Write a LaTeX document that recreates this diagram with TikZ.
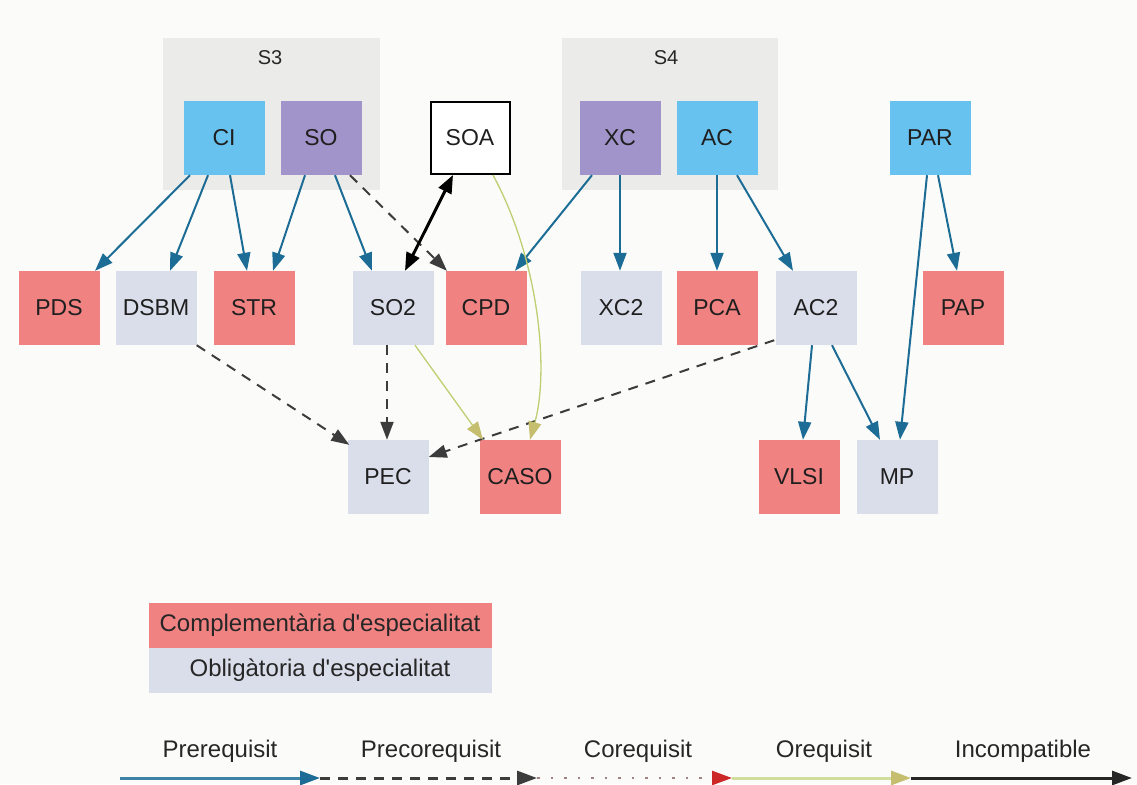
\documentclass[tikz,border=0pt]{standalone}
\usepackage{fontspec}
\setmainfont{Liberation Sans}
\usetikzlibrary{arrows.meta}

\definecolor{pagebg}{RGB}{251,252,250}
\definecolor{clusterbg}{RGB}{235,236,233}
\definecolor{nblue}{RGB}{104,194,240}
\definecolor{npurple}{RGB}{160,148,202}
\definecolor{nred}{RGB}{240,130,130}
\definecolor{ngrey}{RGB}{218,222,234}
\definecolor{eblue}{RGB}{28,108,150}
\definecolor{edash}{RGB}{60,60,60}
\definecolor{ekhaki}{RGB}{190,206,112}
\definecolor{ekhakitip}{RGB}{196,190,110}
\definecolor{ered}{RGB}{205,40,40}
\definecolor{edot}{RGB}{160,130,130}

\tikzset{
  tip/.style={-{Triangle[length=18pt,width=13pt]}},
  box/.style={rectangle, minimum width=81pt, minimum height=74pt, inner sep=0pt,
    font=\fontsize{23}{27}\selectfont, text=black!88},
  core/.style={box, fill=nblue},
  sys/.style={box, fill=npurple},
  compl/.style={box, fill=nred},
  oblig/.style={box, fill=ngrey},
  plainbox/.style={box, fill=white, draw=black, line width=2pt, minimum width=79pt, minimum height=72pt},
  cluster/.style={fill=clusterbg, draw=none},
  clusterlabel/.style={font=\fontsize{20}{24}\selectfont, text=black!85},
  legendtext/.style={font=\fontsize{24}{28}\selectfont, text=black!85},
  prereq/.style={draw=eblue, line width=2pt, tip},
  precoreq/.style={draw=edash, line width=2pt, dash pattern=on 10pt off 8pt, tip},
  oreq/.style={draw=ekhaki, line width=1.3pt,
    -{Triangle[length=18pt,width=13pt,fill=ekhakitip,color=ekhakitip]}},
  incompat/.style={draw=black, line width=3pt,
    {Triangle[length=18pt,width=14pt]}-{Triangle[length=18pt,width=14pt]}},
  % legend strokes
  lgtip/.style={-{Triangle[length=20pt,width=14pt,#1]}},
  lgprereq/.style={draw=eblue!85!white, line width=3pt, lgtip={fill=eblue,color=eblue}},
  lgprecoreq/.style={draw=edash, line width=3pt, dash pattern=on 10pt off 8pt, lgtip={}},
  lgcoreq/.style={draw=edot, line width=2.5pt, dash pattern=on 2.5pt off 11pt,
    lgtip={fill=ered,color=ered}},
  lgoreq/.style={draw=ekhaki!70!white, line width=3pt, lgtip={fill=ekhakitip,color=ekhakitip}},
  lgincompat/.style={draw=black!85, line width=3pt, lgtip={}},
}

\begin{document}
\begin{tikzpicture}[x=1pt,y=-1pt]
  % canvas
  \fill[pagebg] (0,0) rectangle (1137,784);
  \useasboundingbox (0,0) rectangle (1137,784);

  % semester groups
  \fill[cluster] (163,38) rectangle (380,190);
  \fill[cluster] (562,38) rectangle (778,190);
  \node[clusterlabel] (s3) at (270,58) {S3};
  \node[clusterlabel] (s4) at (666,58) {S4};

  % first row
  \node[core]     (CI)  at (224,138) {CI};
  \node[sys]      (SO)  at (321,138) {SO};
  \node[plainbox] (SOA) at (470,138) {SOA};
  \node[sys]      (XC)  at (620,138) {XC};
  \node[core]     (AC)  at (717,138) {AC};
  \node[core]     (PAR) at (930,138) {PAR};

  % second row
  \node[compl] (PDS)  at (59,308)  {PDS};
  \node[oblig] (DSBM) at (156,308) {DSBM};
  \node[compl] (STR)  at (254,308) {STR};
  \node[oblig] (SO2)  at (393,308) {SO2};
  \node[compl] (CPD)  at (486,308) {CPD};
  \node[oblig] (XC2)  at (621,308) {XC2};
  \node[compl] (PCA)  at (717,308) {PCA};
  \node[oblig] (AC2)  at (816,308) {AC2};
  \node[compl] (PAP)  at (963,308) {PAP};

  % third row
  \node[oblig] (PEC)  at (388,477) {PEC};
  \node[compl] (CASO) at (520,477) {CASO};
  \node[compl] (VLSI) at (799,477) {VLSI};
  \node[oblig] (MP)   at (897,477) {MP};

  % prerequisites
  \draw[prereq] ([xshift=-34pt]CI.south) -- ([xshift=36pt]PDS.north);
  \draw[prereq] ([xshift=-16pt]CI.south) -- ([xshift=14pt]DSBM.north);
  \draw[prereq] ([xshift=6pt]CI.south)   -- ([xshift=-7pt]STR.north);
  \draw[prereq] ([xshift=-16pt]SO.south) -- ([xshift=19pt]STR.north);
  \draw[prereq] ([xshift=14pt]SO.south)  -- ([xshift=-21pt]SO2.north);
  \draw[prereq] ([xshift=-28pt]XC.south) -- ([xshift=29pt]CPD.north);
  \draw[prereq] ([xshift=0pt]XC.south)   -- ([xshift=-1pt]XC2.north);
  \draw[prereq] (AC.south) -- (PCA.north);
  \draw[prereq] ([xshift=20pt]AC.south)  -- ([xshift=-23pt]AC2.north);
  \draw[prereq] ([xshift=8pt]PAR.south)  -- ([xshift=-6pt]PAP.north);
  \draw[prereq] ([xshift=-3pt]PAR.south) -- ([xshift=3pt]MP.north);
  \draw[prereq] ([xshift=-4pt]AC2.south) -- ([xshift=4pt]VLSI.north);
  \draw[prereq] ([xshift=16pt]AC2.south) -- ([xshift=-17pt]MP.north);

  % precorequisites
  \draw[precoreq] ([xshift=29pt]SO.south) -- ([xshift=-39pt]CPD.north);
  \draw[precoreq] (DSBM.south east) -- ([xshift=2pt,yshift=-5pt]PEC.north west);
  \draw[precoreq] ([xshift=-6pt]SO2.south) -- ([xshift=-1pt]PEC.north);
  \draw[precoreq] ([xshift=-1pt,yshift=5pt]AC2.south west) -- ([yshift=20pt]PEC.east);

  % orequisites
  \draw[oreq] ([xshift=22pt]SO2.south) -- ([xshift=-37pt]CASO.north);
  \draw[oreq] ([xshift=23pt]SOA.south) .. controls (540,262) and (549,372) .. ([xshift=10pt]CASO.north);

  % incompatibility
  \draw[incompat] ([xshift=-17pt]SOA.south) -- ([xshift=12pt]SO2.north);

  % node type legend
  \node[fill=nred, minimum width=343pt, minimum height=45pt, inner sep=0pt,
        legendtext] (kcompl) at (320,625) {Complementària d\textquotesingle especialitat};
  \node[fill=ngrey, minimum width=343pt, minimum height=45pt, inner sep=0pt,
        legendtext, anchor=north] (koblig) at (kcompl.south) {Obligàtoria d\textquotesingle especialitat};

  % edge type legend
  \coordinate (e0) at (120,778);
  \coordinate (e1) at (320,778);
  \coordinate (e2) at (537,778);
  \coordinate (e3) at (732,778);
  \coordinate (e4) at (911,778);
  \coordinate (e5) at (1132,778);
  \draw[lgprereq] (e0) -- (e1);
  \draw[lgprecoreq] (e1) -- (e2);
  \draw[lgcoreq] (e2) -- (e3);
  \draw[lgoreq] (e3) -- (e4);
  \draw[lgincompat] (e4) -- (e5);
  \node[legendtext] (tpre)  at (220,751) {Prerequisit};
  \node[legendtext] (tprec) at (431,751) {Precorequisit};
  \node[legendtext] (tcor)  at (638,751) {Corequisit};
  \node[legendtext] (tore)  at (824,751) {Orequisit};
  \node[legendtext] (tinc)  at (1023,751) {Incompatible};
\end{tikzpicture}
\end{document}
